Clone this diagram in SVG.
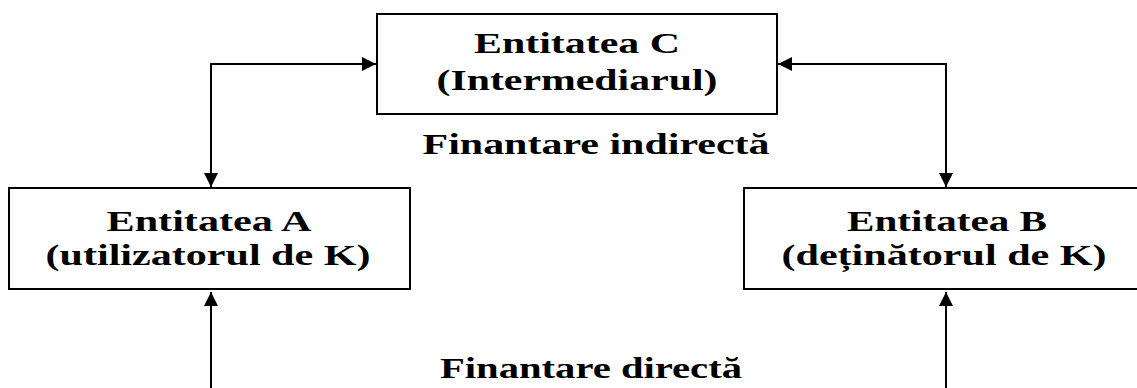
<svg xmlns="http://www.w3.org/2000/svg" width="1137" height="388" viewBox="0 0 1137 388">
<defs>
<style>
.box{fill:#fff;stroke:#000;stroke-width:2}
.ln{fill:none;stroke:#000;stroke-width:2}
.t{font-family:"Liberation Serif","Times New Roman",serif;font-weight:bold;font-size:30px;fill:#000;text-anchor:middle}
</style>
<marker id="ah" viewBox="0 0 14 14" refX="14" refY="7" markerWidth="14" markerHeight="14" markerUnits="userSpaceOnUse" orient="auto-start-reverse">
<path d="M0,0 L14,7 L0,14 Z" fill="#000"/>
</marker>
</defs>
<g id="connectors">
<path class="ln" d="M211,187 V64 H376" marker-start="url(#ah)" marker-end="url(#ah)"/>
<path class="ln" d="M946,187 V64 H778" marker-start="url(#ah)" marker-end="url(#ah)"/>
<path class="ln" d="M211,388 V292" marker-end="url(#ah)"/>
<path class="ln" d="M946,388 V292" marker-end="url(#ah)"/>
</g>
<g id="nodeC">
<rect class="box" x="377" y="14" width="400" height="100"/>
<text class="t" x="577" y="53" textLength="206" lengthAdjust="spacingAndGlyphs">Entitatea C</text>
<text class="t" x="577" y="90" textLength="281" lengthAdjust="spacingAndGlyphs">(Intermediarul)</text>
</g>
<g id="nodeA">
<rect class="box" x="9" y="188" width="401" height="101"/>
<text class="t" x="209" y="231" textLength="205" lengthAdjust="spacingAndGlyphs">Entitatea A</text>
<text class="t" x="208" y="265" textLength="325" lengthAdjust="spacingAndGlyphs">(utilizatorul de K)</text>
</g>
<g id="nodeB">
<rect class="box" x="744" y="188" width="400" height="101"/>
<text class="t" x="947" y="231" textLength="200" lengthAdjust="spacingAndGlyphs">Entitatea B</text>
<text class="t" x="944" y="265" textLength="325" lengthAdjust="spacingAndGlyphs">(deținătorul de K)</text>
</g>
<g id="labels">
<text class="t" x="596" y="154" textLength="347" lengthAdjust="spacingAndGlyphs">Finantare indirectă</text>
<text class="t" x="591" y="378" textLength="302" lengthAdjust="spacingAndGlyphs">Finantare directă</text>
</g>
</svg>
